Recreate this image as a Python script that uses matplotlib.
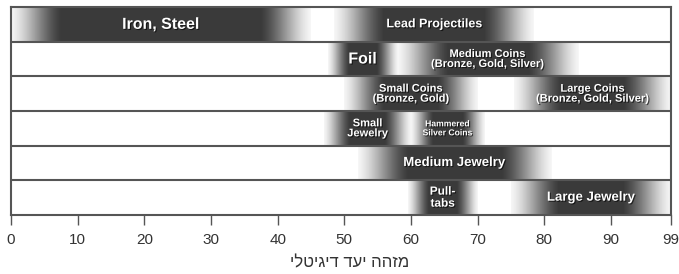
import numpy as np
import matplotlib
matplotlib.use('Agg')
import matplotlib.pyplot as plt
import matplotlib.patheffects as pe

# Данные: диапазоны цифрового идентификатора цели (VDI)
labels = ['Iron, Steel', 'Lead Projectiles', 'Foil',
          'Medium Coins\n(Bronze, Gold, Silver)', 'Small Coins\n(Bronze, Gold)',
          'Large Coins\n(Bronze, Gold, Silver)', 'Small\nJewelry',
          'Hammered\nSilver Coins', 'Medium Jewelry', 'Pull-\ntabs', 'Large Jewelry']
rows = [0, 0, 1, 1, 2, 2, 3, 3, 4, 5, 5]
starts = [0, 48.5, 47.5, 58, 50, 75.5, 47, 60, 52, 59.5, 75]
ends = [45, 78.5, 58, 85, 70, 99, 60, 71, 81, 70, 99]
ticks = [0, 10, 20, 30, 40, 50, 60, 70, 80, 90, 99]
xlabel = 'מזהה יעד דיגיטלי'

# размеры шрифта подписей
sizes = [11.5, 9, 11.5, 8, 8, 8, 8, 6.2, 9.5, 8.5, 9.5]

n_rows = 6
fig = plt.figure(figsize=(6.79, 2.74), dpi=100)
ax = fig.add_axes([11 / 679, 1 - 215 / 274, 660 / 679, 208 / 274])

dark = np.array([0.14, 0.14, 0.14])

# Градиентные полосы
for lab, r, s, e, fs in zip(labels, rows, starts, ends, sizes):
    w = e - s
    fade = min(7.5, 0.3 * w)
    x = np.linspace(s, e, 400)
    d = np.minimum(x - s, e - x) / fade
    d = np.clip(d, 0, 1)
    t = 0.5 * d + 0.5 * d * d * (3 - 2 * d)
    alpha = 0.04 + (0.9 - 0.04) * t
    img = np.zeros((1, len(x), 4))
    img[0, :, :3] = dark
    img[0, :, 3] = alpha
    y0 = n_rows - 1 - r
    ax.imshow(img, extent=[s, e, y0, y0 + 1], aspect='auto',
              interpolation='bilinear', zorder=1)
    ax.text((s + e) / 2, y0 + 0.5, lab, ha='center', va='center',
            color='white', fontsize=fs, fontweight='bold',
            family='Liberation Sans', linespacing=1.0, zorder=3,
            path_effects=[pe.withSimplePatchShadow(offset=(0.8, -0.8),
                                                   shadow_rgbFace='black',
                                                   alpha=0.6)])

# Линии между строками
for yy in range(1, n_rows):
    ax.axhline(yy, color='#555555', lw=1.5, zorder=2)

ax.set_xlim(0, 99)
ax.set_ylim(0, n_rows)
ax.set_yticks([])
ax.set_xticks(ticks)
ax.tick_params(axis='x', direction='out', length=7, width=1, color='#555555',
               labelsize=11, labelcolor='#333333', pad=6)
for lbl in ax.get_xticklabels():
    lbl.set_family('Liberation Sans')
for sp in ax.spines.values():
    sp.set_color('#555555')
    sp.set_linewidth(1.5)

# Подпись оси (иврит, порядок справа налево)
fig.text(350 / 679, 1 - 263 / 274, xlabel[::-1], ha='center', va='center',
         fontsize=12, color='#333333', family=['Liberation Sans', 'DejaVu Sans'])

fig.savefig('out.png', dpi=100)
